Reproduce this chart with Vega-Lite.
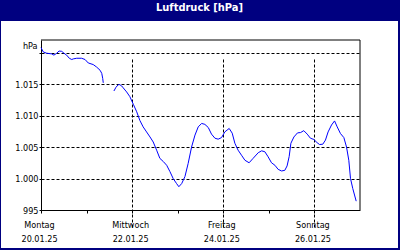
{
  "$schema": "https://vega.github.io/schema/vega-lite/v6.json",
  "width": 397,
  "height": 227,
  "autosize": "none",
  "padding": {"left": 1, "top": 21, "right": 2, "bottom": 2},
  "background": "#000080",
  "title": {"text": "Luftdruck [hPa]", "color": "white", "font": "DejaVu Sans Condensed", "fontSize": 11, "fontWeight": "bold", "anchor": "middle", "offset": -1, "baseline": "alphabetic"},
  "config": {"view": {"fill": "white", "stroke": null}},
  "data": {"values": [
    {"t": "2025-01-20T00:00", "p": 1020.8, "seg": 1},
    {"t": "2025-01-20T01:12", "p": 1020.1, "seg": 1},
    {"t": "2025-01-20T03:00", "p": 1019.9, "seg": 1},
    {"t": "2025-01-20T05:36", "p": 1019.8, "seg": 1},
    {"t": "2025-01-20T06:48", "p": 1019.6, "seg": 1},
    {"t": "2025-01-20T08:18", "p": 1019.9, "seg": 1},
    {"t": "2025-01-20T09:30", "p": 1020.25, "seg": 1},
    {"t": "2025-01-20T10:54", "p": 1020.2, "seg": 1},
    {"t": "2025-01-20T12:06", "p": 1019.9, "seg": 1},
    {"t": "2025-01-20T13:30", "p": 1019.6, "seg": 1},
    {"t": "2025-01-20T14:54", "p": 1019.1, "seg": 1},
    {"t": "2025-01-20T16:12", "p": 1018.9, "seg": 1},
    {"t": "2025-01-20T17:00", "p": 1019.0, "seg": 1},
    {"t": "2025-01-20T18:48", "p": 1019.1, "seg": 1},
    {"t": "2025-01-20T21:24", "p": 1019.1, "seg": 1},
    {"t": "2025-01-20T23:12", "p": 1018.9, "seg": 1},
    {"t": "2025-01-21T00:54", "p": 1018.35, "seg": 1},
    {"t": "2025-01-21T03:30", "p": 1018.1, "seg": 1},
    {"t": "2025-01-21T05:18", "p": 1017.7, "seg": 1},
    {"t": "2025-01-21T07:06", "p": 1017.2, "seg": 1},
    {"t": "2025-01-21T08:00", "p": 1016.7, "seg": 1},
    {"t": "2025-01-21T08:30", "p": 1015.9, "seg": 1},
    {"t": "2025-01-21T08:48", "p": 1015.2, "seg": 1},
    {"t": "2025-01-21T14:24", "p": 1013.9, "seg": 2},
    {"t": "2025-01-21T15:30", "p": 1014.5, "seg": 2},
    {"t": "2025-01-21T16:42", "p": 1014.9, "seg": 2},
    {"t": "2025-01-21T17:30", "p": 1014.9, "seg": 2},
    {"t": "2025-01-21T18:30", "p": 1014.7, "seg": 2},
    {"t": "2025-01-21T19:18", "p": 1014.4, "seg": 2},
    {"t": "2025-01-21T21:06", "p": 1013.75, "seg": 2},
    {"t": "2025-01-21T22:48", "p": 1013.0, "seg": 2},
    {"t": "2025-01-22T00:36", "p": 1011.8, "seg": 2},
    {"t": "2025-01-22T02:24", "p": 1010.6, "seg": 2},
    {"t": "2025-01-22T04:06", "p": 1009.2, "seg": 2},
    {"t": "2025-01-22T05:48", "p": 1008.2, "seg": 2},
    {"t": "2025-01-22T07:36", "p": 1007.4, "seg": 2},
    {"t": "2025-01-22T09:24", "p": 1006.6, "seg": 2},
    {"t": "2025-01-22T11:06", "p": 1005.8, "seg": 2},
    {"t": "2025-01-22T12:54", "p": 1004.5, "seg": 2},
    {"t": "2025-01-22T14:36", "p": 1003.2, "seg": 2},
    {"t": "2025-01-22T16:24", "p": 1002.7, "seg": 2},
    {"t": "2025-01-22T18:12", "p": 1002.1, "seg": 2},
    {"t": "2025-01-22T19:54", "p": 1001.1, "seg": 2},
    {"t": "2025-01-22T21:36", "p": 1000.0, "seg": 2},
    {"t": "2025-01-22T23:24", "p": 999.2, "seg": 2},
    {"t": "2025-01-23T00:36", "p": 998.7, "seg": 2},
    {"t": "2025-01-23T02:06", "p": 999.2, "seg": 2},
    {"t": "2025-01-23T03:48", "p": 1000.3, "seg": 2},
    {"t": "2025-01-23T05:30", "p": 1002.4, "seg": 2},
    {"t": "2025-01-23T07:18", "p": 1005.0, "seg": 2},
    {"t": "2025-01-23T09:06", "p": 1006.9, "seg": 2},
    {"t": "2025-01-23T10:48", "p": 1008.2, "seg": 2},
    {"t": "2025-01-23T12:36", "p": 1008.75, "seg": 2},
    {"t": "2025-01-23T14:18", "p": 1008.6, "seg": 2},
    {"t": "2025-01-23T16:06", "p": 1008.1, "seg": 2},
    {"t": "2025-01-23T17:48", "p": 1007.05, "seg": 2},
    {"t": "2025-01-23T19:36", "p": 1006.4, "seg": 2},
    {"t": "2025-01-23T21:18", "p": 1006.25, "seg": 2},
    {"t": "2025-01-23T23:06", "p": 1006.5, "seg": 2},
    {"t": "2025-01-24T00:48", "p": 1007.4, "seg": 2},
    {"t": "2025-01-24T03:06", "p": 1007.95, "seg": 2},
    {"t": "2025-01-24T04:42", "p": 1007.2, "seg": 2},
    {"t": "2025-01-24T06:06", "p": 1005.6, "seg": 2},
    {"t": "2025-01-24T07:48", "p": 1004.5, "seg": 2},
    {"t": "2025-01-24T09:36", "p": 1003.7, "seg": 2},
    {"t": "2025-01-24T11:24", "p": 1002.9, "seg": 2},
    {"t": "2025-01-24T13:36", "p": 1002.5, "seg": 2},
    {"t": "2025-01-24T15:42", "p": 1003.2, "seg": 2},
    {"t": "2025-01-24T18:24", "p": 1004.1, "seg": 2},
    {"t": "2025-01-24T20:12", "p": 1004.4, "seg": 2},
    {"t": "2025-01-24T21:54", "p": 1004.25, "seg": 2},
    {"t": "2025-01-24T23:36", "p": 1003.45, "seg": 2},
    {"t": "2025-01-25T01:24", "p": 1002.5, "seg": 2},
    {"t": "2025-01-25T03:12", "p": 1002.1, "seg": 2},
    {"t": "2025-01-25T04:54", "p": 1001.45, "seg": 2},
    {"t": "2025-01-25T06:42", "p": 1001.2, "seg": 2},
    {"t": "2025-01-25T08:24", "p": 1001.3, "seg": 2},
    {"t": "2025-01-25T09:36", "p": 1002.0, "seg": 2},
    {"t": "2025-01-25T10:42", "p": 1003.5, "seg": 2},
    {"t": "2025-01-25T11:36", "p": 1005.6, "seg": 2},
    {"t": "2025-01-25T13:12", "p": 1006.6, "seg": 2},
    {"t": "2025-01-25T15:06", "p": 1007.25, "seg": 2},
    {"t": "2025-01-25T16:42", "p": 1007.3, "seg": 2},
    {"t": "2025-01-25T18:24", "p": 1007.6, "seg": 2},
    {"t": "2025-01-25T20:12", "p": 1007.05, "seg": 2},
    {"t": "2025-01-25T21:54", "p": 1006.4, "seg": 2},
    {"t": "2025-01-25T23:42", "p": 1006.2, "seg": 2},
    {"t": "2025-01-26T01:24", "p": 1005.7, "seg": 2},
    {"t": "2025-01-26T02:42", "p": 1005.4, "seg": 2},
    {"t": "2025-01-26T04:24", "p": 1005.45, "seg": 2},
    {"t": "2025-01-26T05:48", "p": 1006.1, "seg": 2},
    {"t": "2025-01-26T07:12", "p": 1007.4, "seg": 2},
    {"t": "2025-01-26T09:00", "p": 1008.5, "seg": 2},
    {"t": "2025-01-26T10:36", "p": 1009.15, "seg": 2},
    {"t": "2025-01-26T12:00", "p": 1008.2, "seg": 2},
    {"t": "2025-01-26T13:42", "p": 1007.15, "seg": 2},
    {"t": "2025-01-26T15:30", "p": 1006.5, "seg": 2},
    {"t": "2025-01-26T16:54", "p": 1005.0, "seg": 2},
    {"t": "2025-01-26T18:06", "p": 1002.9, "seg": 2},
    {"t": "2025-01-26T19:00", "p": 1000.0, "seg": 2},
    {"t": "2025-01-26T20:12", "p": 998.4, "seg": 2},
    {"t": "2025-01-26T22:00", "p": 996.4, "seg": 2}
  ]},
  "layer": [
    {
      "mark": {"type": "line", "color": "#0000ff", "strokeWidth": 1},
      "encoding": {
        "x": {
          "field": "t", "type": "temporal",
          "scale": {"domain": [{"year": 2025, "month": 1, "date": 20}, {"year": 2025, "month": 1, "date": 27}], "range": [40, 359], "nice": false},
          "axis": {
            "values": [
              {"year": 2025, "month": 1, "date": 20},
              {"year": 2025, "month": 1, "date": 21},
              {"year": 2025, "month": 1, "date": 22},
              {"year": 2025, "month": 1, "date": 23},
              {"year": 2025, "month": 1, "date": 24},
              {"year": 2025, "month": 1, "date": 25},
              {"year": 2025, "month": 1, "date": 26}
            ],
            "orient": "bottom", "offset": -38,
            "domainColor": "black", "domainWidth": 1,
            "tickColor": "black", "tickSize": 3, "tickWidth": 1,
            "grid": true, "gridColor": "black", "gridDash": [3, 2], "gridWidth": 1,
            "gridOpacity": {"condition": {"test": "date(datum.value) % 2 == 0 && date(datum.value) != 20", "value": 1}, "value": 0},
            "labelExpr": "date(datum.value) % 2 == 0 ? [['Sonntag','Montag','Dienstag','Mittwoch','Donnerstag','Freitag','Samstag'][day(datum.value)], timeFormat(datum.value, '%d.%m.%y')] : ''",
            "labelFont": "DejaVu Sans Condensed", "labelFontSize": 9, "labelColor": "black",
            "labelLineHeight": 14, "labelPadding": 7, "labelOffset": -2,
            "labelFlush": false, "labelOverlap": false, "labelBound": false,
            "title": null
          }
        },
        "y": {
          "field": "p", "type": "quantitative",
          "scale": {"domain": [995, 1022], "range": [189, 19], "zero": false, "nice": false},
          "axis": {
            "values": [995, 1000, 1005, 1010, 1015, 1020],
            "orient": "left", "offset": -40,
            "domainColor": "black", "domainWidth": 1,
            "tickColor": "black", "tickSize": 2,
            "grid": true, "gridColor": "black", "gridDash": [3, 2], "gridWidth": 1,
            "labelExpr": "datum.value == 1020 ? '' : replace(format(datum.value, ','), ',', '.')",
            "labelFont": "DejaVu Sans Condensed", "labelFontSize": 9, "labelColor": "black", "labelPadding": 1,
            "title": "hPa", "titleAngle": 0, "titleAlign": "right", "titleBaseline": "middle",
            "titleX": -4, "titleY": 24,
            "titleFont": "DejaVu Sans Condensed", "titleFontSize": 9, "titleFontWeight": "normal", "titleColor": "black"
          }
        },
        "detail": {"field": "seg", "type": "nominal"}
      }
    },
    {
      "data": {"values": [{}]},
      "mark": {"type": "rule", "color": "black", "strokeWidth": 1},
      "encoding": {
        "x": {"datum": {"year": 2025, "month": 1, "date": 20}, "type": "temporal"},
        "x2": {"datum": {"year": 2025, "month": 1, "date": 27}},
        "y": {"datum": 1022, "type": "quantitative"}
      }
    },
    {
      "data": {"values": [{}]},
      "mark": {"type": "rule", "color": "black", "strokeWidth": 1},
      "encoding": {
        "x": {"datum": {"year": 2025, "month": 1, "date": 27}, "type": "temporal"},
        "y": {"datum": 995, "type": "quantitative"},
        "y2": {"datum": 1022}
      }
    }
  ]
}
